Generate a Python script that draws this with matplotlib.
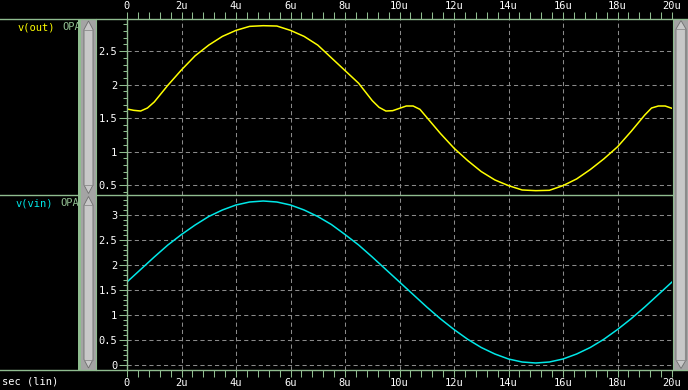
import matplotlib
matplotlib.use('Agg')
import matplotlib.pyplot as plt
from matplotlib.patches import Rectangle, Polygon
from matplotlib.ticker import MultipleLocator

# waveform values (time in microseconds, volts)
t_out = [0, 0.25, 0.5, 0.75, 1.0, 1.5, 2.0, 2.5, 3.0, 3.5, 4.0, 4.5, 5.0, 5.5,
         6.0, 6.5, 7.0, 7.5, 8.0, 8.5, 9.0, 9.25, 9.5, 9.75, 10.0, 10.25, 10.5,
         10.75, 11.0, 11.5, 12.0, 12.5, 13.0, 13.5, 14.0, 14.5, 15.0, 15.5, 16.0,
         16.5, 17.0, 17.5, 18.0, 18.5, 19.0, 19.25, 19.5, 19.75, 20.0]
v_out = [1.635, 1.615, 1.605, 1.65, 1.74, 1.99, 2.22, 2.43, 2.59, 2.72, 2.81, 2.87, 2.88, 2.875,
         2.81, 2.72, 2.59, 2.40, 2.21, 2.02, 1.76, 1.66, 1.605, 1.61, 1.645, 1.68, 1.68,
         1.63, 1.51, 1.27, 1.05, 0.865, 0.70, 0.575, 0.49, 0.425, 0.415, 0.42, 0.49,
         0.59, 0.73, 0.89, 1.07, 1.30, 1.545, 1.65, 1.68, 1.68, 1.645]

t_vin = [0, 0.5, 1, 1.5, 2, 2.5, 3, 3.5, 4, 4.5, 5, 5.5, 6, 6.5, 7, 7.5, 8, 8.5, 9, 9.5, 10,
         10.5, 11, 11.5, 12, 12.5, 13, 13.5, 14, 14.5, 15, 15.5, 16, 16.5, 17, 17.5, 18,
         18.5, 19, 19.5, 20]
v_vin = [1.66, 1.91, 2.16, 2.40, 2.61, 2.80, 2.97, 3.10, 3.20, 3.26, 3.28, 3.26, 3.20, 3.10,
         2.97, 2.81, 2.61, 2.40, 2.16, 1.91, 1.66, 1.41, 1.16, 0.925, 0.71, 0.515, 0.35,
         0.22, 0.12, 0.06, 0.04, 0.06, 0.12, 0.22, 0.35, 0.515, 0.71, 0.925, 1.16, 1.41, 1.66]

x_ticks = [0, 2, 4, 6, 8, 10, 12, 14, 16, 18, 20]
x_labels = ['0', '2u', '4u', '6u', '8u', '10u', '12u', '14u', '16u', '18u', '20u']
out_ticks = [0.5, 1, 1.5, 2, 2.5]
out_labels = ['0.5', '1', '1.5', '2', '2.5']
vin_ticks = [0, 0.5, 1, 1.5, 2, 2.5, 3]
vin_labels = ['0', '0.5', '1', '1.5', '2', '2.5', '3']

plt.rcParams['font.family'] = 'DejaVu Sans Mono'

W, H = 688, 390
GREEN = '#8fbc8f'
FS = 7.5

fig = plt.figure(figsize=(W / 100, H / 100), dpi=100, facecolor='black')


def px_axes(x0, y0, x1, y1, **kw):
    # axes placed by screen pixel box (y down)
    return fig.add_axes([x0 / W, 1 - y1 / H, (x1 - x0) / W, (y1 - y0) / H], **kw)


def style_panel(ax, yticks, ylabels, ylim, top):
    ax.set_facecolor('black')
    ax.set_xlim(0, 20)
    ax.set_ylim(*ylim)
    for s in ax.spines.values():
        s.set_visible(False)
    ax.set_xticks(x_ticks)
    ax.set_xticklabels(x_labels)
    ax.xaxis.set_minor_locator(MultipleLocator(0.4))
    ax.set_yticks(yticks)
    ax.set_yticklabels(ylabels)
    ax.yaxis.set_minor_locator(MultipleLocator(0.1))
    ax.grid(True, which='major', color='#8a8a8a', lw=0.75, ls=(0, (4, 3)))
    ax.tick_params(which='both', colors=GREEN, labelcolor='white', direction='out',
                   labelsize=FS, width=0.75)
    ax.tick_params(axis='y', which='major', length=6, pad=1)
    ax.tick_params(axis='y', which='minor', length=3)
    ax.tick_params(axis='x', which='both', length=5, pad=1)
    if top:
        ax.tick_params(axis='x', which='both', top=True, bottom=False,
                       labeltop=True, labelbottom=False)
    else:
        ax.tick_params(axis='x', which='both', top=False, bottom=True,
                       labeltop=False, labelbottom=True)


ax1 = px_axes(127, 19, 672, 195)
style_panel(ax1, out_ticks, out_labels, (0.35, 2.98), True)
ax1.plot(t_out, v_out, color='#ffff00', lw=1.1)

ax2 = px_axes(127, 195, 672, 370)
style_panel(ax2, vin_ticks, vin_labels, (-0.1, 3.4), False)
ax2.plot(t_vin, v_vin, color='#00e8e8', lw=1.1)

# screen furniture: borders, scrollbars, labels
ov = px_axes(0, 0, W, H, zorder=10)
ov.set_xlim(0, W)
ov.set_ylim(H, 0)
ov.axis('off')
ov.patch.set_alpha(0)

# left scrollbar
ov.add_patch(Rectangle((77.5, 19), 3.5, 351, color=GREEN, lw=0))
ov.add_patch(Rectangle((81, 19.5), 14.5, 350, color='#a4a4a4', lw=0))
for y0, y1 in [(19.5, 195), (195, 369.5)]:
    ov.add_patch(Polygon([(84, y0 + 10), (88.5, y0 + 1.5), (93, y0 + 10), (93, y1 - 10),
                          (88.5, y1 - 1.5), (84, y1 - 10)], closed=True,
                         facecolor='#c8c8c8', edgecolor='#6e6e6e', lw=0.6))
    ov.plot([84, 93], [y0 + 10, y0 + 10], color='#8c8c8c', lw=0.6)
    ov.plot([84, 93], [y1 - 10, y1 - 10], color='#8c8c8c', lw=0.6)
ov.plot([96, 96], [19, 370], color=GREEN, lw=0.8)

# right scrollbar
ov.add_patch(Rectangle((674, 19.5), 14, 350, color='#a4a4a4', lw=0))
ov.add_patch(Polygon([(676, 29), (681, 20.5), (686, 29), (686, 360), (681, 368.5), (676, 360)],
                     closed=True, facecolor='#c8c8c8', edgecolor='#6e6e6e', lw=0.6))
ov.plot([676, 686], [29, 29], color='#8c8c8c', lw=0.6)
ov.plot([676, 686], [360, 360], color='#8c8c8c', lw=0.6)
ov.plot([685, 685], [29, 360], color='#8c8c8c', lw=0.8)
ov.plot([673, 673], [19, 370], color=GREEN, lw=0.8)

# frame lines
ov.plot([0, W], [19, 19], color=GREEN, lw=1.0)
ov.plot([0, 77.5], [195, 195], color=GREEN, lw=1.0)
ov.plot([96, 673], [195, 195], color=GREEN, lw=1.0)
ov.plot([0, W], [370, 370], color=GREEN, lw=1.0)
ov.plot([127, 127], [19, 370], color=GREEN, lw=1.0)

# signal names
cw = 0.602 * FS * 100 / 72
ov.text(18, 27, 'v(out)', color='#ffff00', fontsize=FS, va='center', ha='left')
ov.text(18 + 7 * cw, 27, 'OPA', color=GREEN, fontsize=FS, va='center', ha='left')
ov.text(16, 203, 'v(vin)', color='#00e8e8', fontsize=FS, va='center', ha='left')
ov.text(16 + 7 * cw, 203, 'OPA', color=GREEN, fontsize=FS, va='center', ha='left')
ov.text(2, 382, 'sec (lin)', color='white', fontsize=FS, va='center', ha='left')

fig.savefig('out.png', dpi=100, facecolor='black')
